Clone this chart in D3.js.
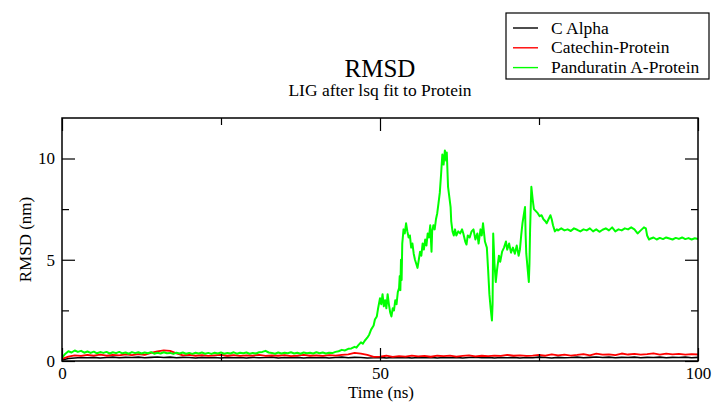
<!DOCTYPE html>
<html>
<head>
<meta charset="utf-8">
<script src="https://cdn.jsdelivr.net/npm/d3@7"></script>
<style>
  html, body { margin: 0; padding: 0; background: #fff; }
  svg { display: block; }
  svg text { font-family: "Liberation Serif", "Times New Roman", Times, "DejaVu Serif", serif; }
</style>
</head>
<body>
<div id="chart"></div>
<script>
// --- data ---
const seriesNames = ['C Alpha', 'Catechin-Protein', 'Panduratin A-Protein'];
const seriesColors = ['#000000', '#ff0000', '#00ff00'];

const xTicks = [0, 50, 100];
const xMinorTicks = [25, 75];
const yTicks = [0, 5, 10];
const yMinorTicks = [2.5, 7.5];

// sampled every 1 ns, 0..100
const cAlpha = [
  0.05, 0.12, 0.15, 0.17, 0.16, 0.18, 0.15, 0.17, 0.19, 0.16,
  0.18, 0.17, 0.19, 0.16, 0.18, 0.2, 0.17, 0.19, 0.16, 0.18,
  0.17, 0.15, 0.18, 0.16, 0.17, 0.15, 0.18, 0.16, 0.17, 0.15,
  0.18, 0.16, 0.17, 0.19, 0.15, 0.17, 0.16, 0.18, 0.15, 0.17,
  0.16, 0.18, 0.15, 0.17, 0.19, 0.16, 0.18, 0.17, 0.15, 0.16,
  0.18, 0.15, 0.17, 0.16, 0.18, 0.15, 0.17, 0.16, 0.18, 0.15,
  0.17, 0.16, 0.18, 0.15, 0.17, 0.19, 0.16, 0.18, 0.15, 0.17,
  0.16, 0.18, 0.15, 0.17, 0.16, 0.19, 0.17, 0.15, 0.18, 0.16,
  0.17, 0.19, 0.16, 0.18, 0.2, 0.17, 0.19, 0.16, 0.18, 0.17,
  0.19, 0.16, 0.18, 0.17, 0.19, 0.16, 0.18, 0.17, 0.19, 0.16,
  0.18
];

const catechin = [
  0.1, 0.22, 0.28, 0.25, 0.3, 0.27, 0.32, 0.26, 0.3, 0.28,
  0.33, 0.29, 0.34, 0.3, 0.4, 0.48, 0.52, 0.5, 0.38, 0.28,
  0.3, 0.26, 0.29, 0.25, 0.28, 0.3, 0.26, 0.29, 0.25, 0.28,
  0.27, 0.3, 0.25, 0.28, 0.26, 0.29, 0.24, 0.27, 0.3, 0.26,
  0.28, 0.25, 0.29, 0.27, 0.3, 0.33, 0.4, 0.36, 0.3, 0.2,
  0.22, 0.26, 0.2, 0.24, 0.22, 0.27, 0.23, 0.25, 0.21, 0.26,
  0.24, 0.27, 0.22, 0.25, 0.28, 0.23, 0.26, 0.24, 0.27, 0.25,
  0.3, 0.26, 0.28, 0.25, 0.27, 0.3, 0.26, 0.33, 0.28, 0.31,
  0.27, 0.3, 0.34, 0.28, 0.36, 0.31, 0.33, 0.29, 0.37, 0.32,
  0.35, 0.31, 0.34, 0.38, 0.32, 0.36, 0.33, 0.35, 0.31, 0.34,
  0.32
];

// [time (ns), rmsd (nm)]
const panduratin = [
  [0,0.15],[0.5,0.35],[1,0.48],[1.5,0.42],[2,0.52],[2.5,0.45],[3,0.5],[3.5,0.41],[4,0.47],[4.5,0.4],
  [5,0.46],[5.5,0.38],[6,0.44],[6.5,0.4],[7,0.45],[7.5,0.37],[8,0.43],[8.5,0.39],[9,0.45],[9.5,0.38],
  [10,0.42],[10.5,0.36],[11,0.44],[11.5,0.39],[12,0.43],[12.5,0.37],[13,0.42],[13.5,0.38],[14,0.44],[14.5,0.36],
  [15,0.41],[15.5,0.37],[16,0.43],[16.5,0.38],[17,0.4],[17.5,0.35],[18,0.41],[18.5,0.37],[19,0.42],[19.5,0.36],
  [20,0.4],[20.5,0.35],[21,0.41],[21.5,0.37],[22,0.42],[22.5,0.36],[23,0.4],[23.5,0.35],[24,0.41],[24.5,0.37],
  [25,0.42],[25.5,0.36],[26,0.4],[26.5,0.37],[27,0.43],[27.5,0.36],[28,0.41],[28.5,0.38],[29,0.42],[29.5,0.36],
  [30,0.4],[30.5,0.37],[31,0.43],[31.5,0.45],[32,0.5],[32.5,0.42],[33,0.4],[33.5,0.36],[34,0.42],[34.5,0.37],
  [35,0.41],[35.5,0.38],[36,0.43],[36.5,0.37],[37,0.41],[37.5,0.36],[38,0.42],[38.5,0.38],[39,0.41],[39.5,0.37],
  [40,0.43],[40.5,0.38],[41,0.42],[41.5,0.37],[42,0.41],[42.5,0.39],[43,0.45],[43.5,0.48],[44,0.55],[44.5,0.52],
  [45,0.6],[45.5,0.62],[46,0.7],[46.3,0.66],[46.6,0.78],[47,0.92],[47.3,0.85],[47.6,1.0],[48,1.15],[48.3,1.3],
  [48.6,1.55],[49,1.75],[49.2,2.05],[49.5,2.2],[49.7,2.6],[50,3.1],[50.2,2.8],[50.4,3.3],[50.6,2.7],[50.8,3.0],
  [51,2.6],[51.2,3.3],[51.4,2.8],[51.6,2.4],[51.8,2.2],[52,2.6],[52.2,2.5],[52.4,3.0],[52.6,2.8],[52.8,3.4],
  [53,3.6],[53.1,4.2],[53.2,3.5],[53.3,5.0],[53.4,4.0],[53.5,5.8],[53.7,6.5],[53.9,6.3],[54.1,6.8],[54.3,6.4],
  [54.5,6.1],[54.7,6.2],[54.9,5.6],[55.1,5.8],[55.3,5.3],[55.5,5.0],[55.7,4.8],[55.9,4.6],[56.1,5.0],[56.3,5.4],
  [56.5,5.2],[56.7,5.8],[56.9,5.5],[57.1,6.0],[57.3,5.7],[57.5,6.3],[57.7,6.1],[57.9,6.7],[58.1,5.4],[58.2,6.4],
  [58.4,6.7],[58.6,6.5],[58.8,7.0],[59,7.3],[59.2,7.8],[59.4,8.3],[59.6,9.2],[59.8,10.2],[60,9.7],[60.2,10.4],
  [60.4,9.9],[60.5,10.3],[60.7,8.6],[60.9,8.1],[61.1,7.6],[61.2,6.9],[61.4,6.4],[61.6,6.2],[61.8,6.5],[62,6.2],
  [62.3,6.4],[62.6,6.3],[62.9,6.5],[63.1,6.3],[63.4,5.9],[63.6,5.75],[63.8,6.2],[64.1,6.1],[64.4,6.4],[64.7,6.5],
  [65,6.0],[65.3,6.3],[65.5,5.8],[65.8,6.5],[66,6.2],[66.2,6.8],[66.5,5.9],[66.8,5.6],[67,4.5],[67.2,3.3],
  [67.4,2.6],[67.6,2.0],[67.7,2.8],[67.8,6.3],[68,4.8],[68.2,3.9],[68.4,4.5],[68.7,5.2],[68.9,4.9],[69.2,5.4],
  [69.5,5.6],[69.8,5.9],[70,5.5],[70.3,5.8],[70.6,5.35],[70.9,5.6],[71.2,5.3],[71.5,5.7],[71.8,5.2],[72,5.5],
  [72.2,6.2],[72.4,6.8],[72.6,7.2],[72.8,7.6],[72.9,6.2],[73,5.3],[73.2,4.6],[73.4,3.9],[73.5,4.8],[73.6,6.5],
  [73.7,7.6],[73.8,8.6],[74,8.0],[74.2,7.5],[74.5,7.4],[74.8,7.3],[75.1,7.15],[75.4,7.2],[75.7,7.0],[76,6.9],
  [76.2,6.8],[76.5,7.0],[76.8,7.2],[77,7.0],[77.2,6.7],[77.5,6.4],[77.8,6.5],[78,6.45],[78.5,6.55],[79,6.45],
  [79.5,6.5],[80,6.42],[80.5,6.55],[81,6.48],[81.5,6.4],[82,6.5],[82.5,6.45],[83,6.55],[83.5,6.4],[84,6.5],
  [84.5,6.38],[85,6.48],[85.5,6.55],[86,6.45],[86.5,6.6],[87,6.4],[87.5,6.5],[88,6.45],[88.5,6.55],[89,6.5],
  [89.5,6.6],[90,6.5],[90.5,6.3],[91,6.45],[91.5,6.6],[91.8,6.55],[92,6.2],[92.3,6.0],[92.6,6.05],[93,6.1],
  [93.5,6.0],[94,6.08],[94.5,6.02],[95,6.1],[95.5,6.05],[96,6.0],[96.5,6.08],[97,6.03],[97.5,6.1],[98,6.02],
  [98.5,6.07],[99,6.0],[99.5,6.06],[100,6.02]
];

// --- drawing ---
const W = 713, H = 403;
const FONT = '"Liberation Serif", "Times New Roman", Times, "DejaVu Serif", serif';
const svg = d3.select('#chart').append('svg')
  .attr('width', W).attr('height', H)
  .attr('font-family', FONT)
  .style('background', '#fff');

const x = d3.scaleLinear().domain([0, 100]).range([62, 698]);
const y = d3.scaleLinear().domain([0, 12]).range([361, 118]);

svg.append('clipPath').attr('id', 'plot-clip')
  .append('rect').attr('x', x(0)).attr('y', y(12))
  .attr('width', x(100) - x(0)).attr('height', y(0) - y(12));

const line = d3.line().x(d => x(d[0])).y(d => y(d[1]));
const lines = [
  cAlpha.map((v, i) => [i, v]),
  catechin.map((v, i) => [i, v]),
  panduratin,
];
const widths = [1.6, 1.8, 2];

const plot = svg.append('g').attr('clip-path', 'url(#plot-clip)');
lines.forEach((pts, i) => {
  plot.append('path').datum(pts)
    .attr('d', line)
    .attr('fill', 'none')
    .attr('stroke', seriesColors[i])
    .attr('stroke-width', widths[i])
    .attr('stroke-linejoin', 'round');
});

// axes: major ticks inward with labels, minor ticks inward, mirrored on top/right
function styleAxis(g) {
  g.attr('font-family', FONT).attr('font-size', 17);
  g.select('.domain').remove();
  g.selectAll('line').attr('stroke', '#000').attr('stroke-width', 1.2);
  g.selectAll('text').attr('fill', '#000');
}

svg.append('g').attr('transform', `translate(0,${y(0)})`)
  .call(d3.axisBottom(x).tickValues(xTicks).tickSize(-13).tickPadding(6).tickFormat(d3.format('d')))
  .call(styleAxis);
svg.append('g').attr('transform', `translate(0,${y(0)})`)
  .call(d3.axisBottom(x).tickValues(xMinorTicks).tickSize(-7).tickFormat(''))
  .call(styleAxis);
svg.append('g').attr('transform', `translate(0,${y(12)})`)
  .call(d3.axisTop(x).tickValues(xTicks).tickSize(-13).tickFormat(''))
  .call(styleAxis);
svg.append('g').attr('transform', `translate(0,${y(12)})`)
  .call(d3.axisTop(x).tickValues(xMinorTicks).tickSize(-7).tickFormat(''))
  .call(styleAxis);

svg.append('g').attr('transform', `translate(${x(0)},0)`)
  .call(d3.axisLeft(y).tickValues(yTicks).tickSize(-13).tickPadding(7).tickFormat(d3.format('d')))
  .call(styleAxis);
svg.append('g').attr('transform', `translate(${x(0)},0)`)
  .call(d3.axisLeft(y).tickValues(yMinorTicks).tickSize(-7).tickFormat(''))
  .call(styleAxis);
svg.append('g').attr('transform', `translate(${x(100)},0)`)
  .call(d3.axisRight(y).tickValues(yTicks).tickSize(-13).tickFormat(''))
  .call(styleAxis);
svg.append('g').attr('transform', `translate(${x(100)},0)`)
  .call(d3.axisRight(y).tickValues(yMinorTicks).tickSize(-7).tickFormat(''))
  .call(styleAxis);

// frame
svg.append('rect')
  .attr('x', x(0)).attr('y', y(12))
  .attr('width', x(100) - x(0)).attr('height', y(0) - y(12))
  .attr('fill', 'none').attr('stroke', '#000').attr('stroke-width', 1.5);

// titles
svg.append('text').attr('x', 380).attr('y', 77)
  .attr('text-anchor', 'middle').attr('font-size', 25).text('RMSD');
svg.append('text').attr('x', 380).attr('y', 96)
  .attr('text-anchor', 'middle').attr('font-size', 17.5).text('LIG after lsq fit to Protein');

svg.append('text').attr('x', 381).attr('y', 398)
  .attr('text-anchor', 'middle').attr('font-size', 17).text('Time (ns)');
svg.append('text')
  .attr('transform', `translate(31,${(y(0) + y(12)) / 2}) rotate(-90)`)
  .attr('text-anchor', 'middle').attr('font-size', 17).text('RMSD (nm)');

// legend
const legend = svg.append('g');
legend.append('rect')
  .attr('x', 506).attr('y', 13).attr('width', 203).attr('height', 66)
  .attr('fill', '#fff').attr('stroke', '#000').attr('stroke-width', 1.2);
seriesNames.forEach((name, i) => {
  const ly = 28 + i * 19.8;
  legend.append('line')
    .attr('x1', 513).attr('x2', 538).attr('y1', ly).attr('y2', ly)
    .attr('stroke', seriesColors[i]).attr('stroke-width', 1.4);
  legend.append('text')
    .attr('x', 551).attr('y', ly + 5.5)
    .attr('font-size', 17.5).text(name);
});
</script>
</body>
</html>
